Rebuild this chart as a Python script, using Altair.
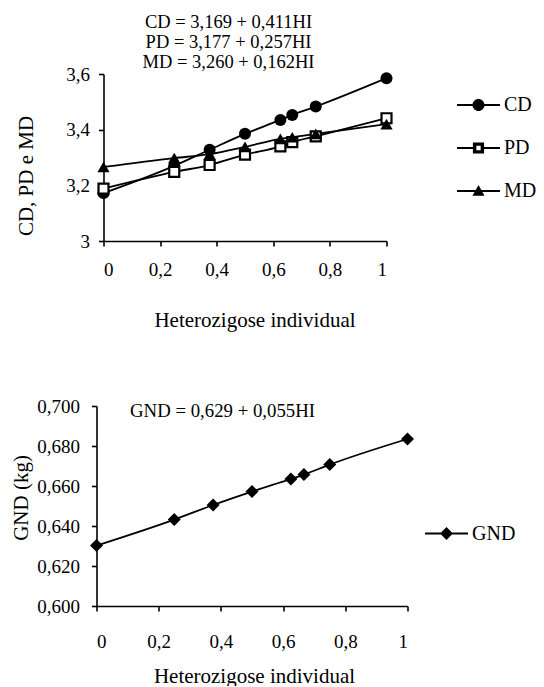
import altair as alt
import pandas as pd

# ---------------- data ----------------
HI = [0, 0.25, 0.375, 0.5, 0.625, 0.667, 0.75, 1]
CD = [3.172, 3.270, 3.328, 3.385, 3.435, 3.453, 3.483, 3.585]
PD = [3.188, 3.248, 3.273, 3.310, 3.340, 3.355, 3.376, 3.441]
MD = [3.266, 3.298, 3.312, 3.338, 3.367, 3.373, 3.385, 3.420]
GND = [0.6302, 0.6432, 0.6505, 0.6572, 0.6635, 0.6657, 0.6707, 0.6835]

SERIES = ["CD", "PD", "MD"]
EQ_TOP = ["CD = 3,169 + 0,411HI", "PD = 3,177 + 0,257HI", "MD = 3,260 + 0,162HI"]
EQ_GND = "GND = 0,629 + 0,055HI"
X_TITLE = "Heterozigose individual"
Y_TOP_TITLE = "CD, PD e MD"
Y_BOT_TITLE = "GND (kg)"
X_TICKS = [0, 0.2, 0.4, 0.6, 0.8, 1]
Y_TOP_TICKS = [3, 3.2, 3.4, 3.6]
Y_BOT_TICKS = [0.6, 0.62, 0.64, 0.66, 0.68, 0.7]

FONT = "Liberation Serif"

top_df = pd.DataFrame({
    "HI": HI * 3,
    "valor": CD + PD + MD,
    "serie": [s for s in SERIES for _ in HI],
})
gnd_df = pd.DataFrame({"HI": HI, "valor": GND, "serie": ["GND"] * len(HI)})

# legend symbols: line + marker drawn as one filled path (unit box -1..1)
LINE = "M-1,-0.045H1V0.045H-1Z"
SYM_CIRCLE = LINE + " M-0.28,0A0.28,0.28 0 1,1 0.28,0A0.28,0.28 0 1,1 -0.28,0Z"
SYM_SQUARE = ("M-1,-0.045H-0.26V0.045H-1Z M0.26,-0.045H1V0.045H0.26Z "
              "M-0.26,-0.26H0.26V0.26H-0.26Z M-0.1,-0.1V0.1H0.1V-0.1Z")
SYM_TRI = LINE + " M0,-0.28L0.28,0.22L-0.28,0.22Z"
SYM_DIAMOND = LINE + " M0,-0.3L0.3,0L0,0.3L-0.3,0Z"
LEG_SIZE = 1849

XLAB = "replace(format(datum.value, '~g'), '.', ',')"


def x_enc(label_pad, title_x, title_y, rng=None):
    sc = alt.Scale(domain=[0, 1], nice=False, zero=False)
    if rng is not None:
        sc = alt.Scale(domain=[0, 1], nice=False, zero=False, range=rng)
    return alt.X(
        "HI:Q",
        scale=sc,
        axis=alt.Axis(values=X_TICKS, labelExpr=XLAB, title=X_TITLE,
                      labelPadding=label_pad, titleX=title_x, titleY=title_y,
                      titleBaseline="alphabetic", titleAlign="center"),
    )


# ---------------- top chart ----------------
xt = x_enc(14, 151, 85)
yt = alt.Y(
    "valor:Q",
    scale=alt.Scale(domain=[3, 3.6], nice=False, zero=False),
    axis=alt.Axis(values=Y_TOP_TICKS, labelExpr=XLAB, title=Y_TOP_TITLE,
                  labelPadding=9, titleX=-67.5, titleY=101.5, titleAngle=270,
                  titleBaseline="bottom", titleAlign="center"),
)

base_top = alt.Chart(top_df)
lines_top = base_top.mark_line(interpolate="monotone", color="black", strokeWidth=1.8).encode(
    x=xt, y=yt, detail="serie:N")

pts_cd = base_top.transform_filter(alt.datum.serie == "CD").mark_point(
    shape="circle", filled=True, color="black", size=144, opacity=1).encode(x=xt, y=yt)
pts_pd = base_top.transform_filter(alt.datum.serie == "PD").mark_point(
    shape="square", fill="white", stroke="black", strokeWidth=2.2, size=100, opacity=1).encode(x=xt, y=yt)
pts_md = base_top.transform_filter(alt.datum.serie == "MD").mark_point(
    shape="triangle-up", filled=True, color="black", size=150, opacity=1).encode(x=xt, y=yt)

legend_top = base_top.transform_filter("false").mark_point(
    filled=True, color="black", size=LEG_SIZE, opacity=1).encode(
    x=xt, y=yt,
    shape=alt.Shape("serie:N",
                    scale=alt.Scale(domain=SERIES, range=[SYM_CIRCLE, SYM_SQUARE, SYM_TRI]),
                    legend=alt.Legend(title=None, orient="none", legendX=353.5, legendY=9.5,
                                      symbolSize=LEG_SIZE, symbolFillColor="black",
                                      symbolStrokeWidth=0, labelFont=FONT, labelFontSize=20,
                                      labelColor="black", labelOffset=4, rowPadding=11,
                                      padding=0, labelLimit=0)),
)

top = alt.layer(lines_top, pts_cd, pts_pd, pts_md, legend_top).properties(
    width=283, height=167,
    title=alt.TitleParams(EQ_TOP, font=FONT, fontSize=18.5, fontWeight="normal", color="black",
                          anchor="middle", baseline="bottom", lineHeight=20, offset=-25, dx=-16.5,
                          frame="group"),
)

# ---------------- bottom chart ----------------
# plot group is aligned with the top one; the bottom scale starts 7 px further left
xb = x_enc(21, 150.5, 76, rng=[-7, 304])
yb = alt.Y(
    "valor:Q",
    scale=alt.Scale(domain=[0.6, 0.7], nice=False, zero=False),
    axis=alt.Axis(values=Y_BOT_TICKS, labelExpr="replace(format(datum.value, '.3f'), '.', ',')",
                  title=Y_BOT_TITLE, labelPadding=12, titleX=-65, titleY=91.5, titleAngle=270,
                  titleBaseline="bottom", titleAlign="center", offset=7),
)
base_b = alt.Chart(gnd_df)
line_b = base_b.mark_line(interpolate="monotone", color="black", strokeWidth=1.8).encode(x=xb, y=yb)
pts_b = base_b.mark_point(shape="diamond", filled=True, color="black", size=169, opacity=1).encode(
    x=xb, y=yb)
legend_b = base_b.transform_filter("false").mark_point(
    filled=True, color="black", size=LEG_SIZE, opacity=1).encode(
    x=xb, y=yb,
    shape=alt.Shape("serie:N",
                    scale=alt.Scale(domain=["GND"], range=[SYM_DIAMOND]),
                    legend=alt.Legend(title=None, orient="none", legendX=321.5, legendY=106,
                                      symbolSize=LEG_SIZE, symbolFillColor="black",
                                      symbolStrokeWidth=0, labelFont=FONT, labelFontSize=20,
                                      labelColor="black", labelOffset=4, padding=0, labelLimit=0)),
)

bottom = alt.layer(line_b, pts_b, legend_b).properties(
    width=311, height=200,
    title=alt.TitleParams(EQ_GND, font=FONT, fontSize=18.8, fontWeight="normal", color="black",
                          anchor="middle", baseline="middle", offset=-33, dx=-36.5, frame="group"),
)

chart = alt.vconcat(top, bottom, spacing=67).resolve_scale(shape="independent").properties(
    padding={"left": 10.5, "top": 12, "right": 0, "bottom": 0},
    background="white",
).configure_view(strokeWidth=0).configure_axis(
    grid=False, domainColor="black", domainWidth=1.6, tickColor="black", tickWidth=1.6,
    tickSize=5, labelFont=FONT, labelFontSize=19, labelColor="black",
    titleFont=FONT, titleFontSize=21, titleFontWeight="normal", titleColor="black",
)

chart.save("out.html", embed_options={"renderer": "svg", "actions": False})
